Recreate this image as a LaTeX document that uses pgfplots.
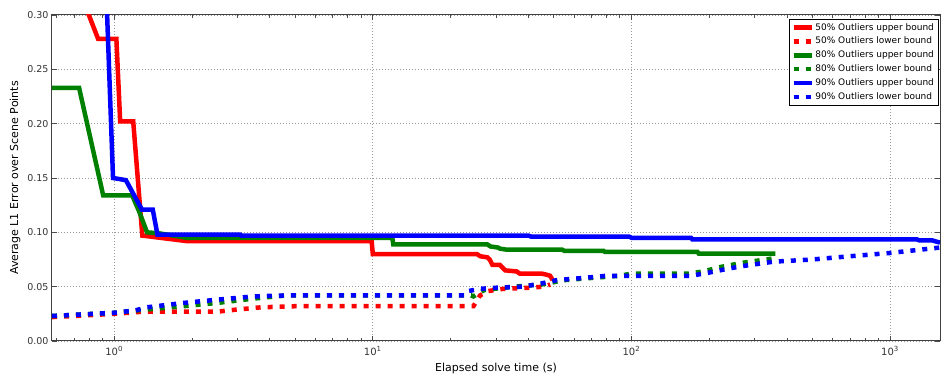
\documentclass[border=0pt]{standalone}
\usepackage{fontspec}
\setmainfont{DejaVu Sans}
\usepackage{pgfplots}
\pgfplotsset{compat=1.18}
\definecolor{mred}{RGB}{255,0,0}
\definecolor{mgreen}{RGB}{0,128,0}
\definecolor{mblue}{RGB}{0,0,255}
\begin{document}
\begin{tikzpicture}
\begin{axis}[
  scale only axis,
  width=888pt, height=326pt,
  xmode=log,
  xmin=0.575, xmax=1560,
  ymin=0, ymax=0.30,
  xtick={1,10,100,1000},
  xticklabels={10\textsuperscript{0},10\textsuperscript{1},10\textsuperscript{2},10\textsuperscript{3}},
  minor xtick={0.6,0.7,0.8,0.9,2,3,4,5,6,7,8,9,20,30,40,50,60,70,80,90,200,300,400,500,600,700,800,900},
  ytick={0,0.05,0.10,0.15,0.20,0.25,0.30},
  yticklabel style={/pgf/number format/.cd,fixed,fixed zerofill,precision=2,assume math mode=true},
  scaled y ticks=false,
  tick label style={font=\fontsize{9.5}{11}\selectfont, text=black!80},
  xticklabel style={font=\fontsize{10}{12}\selectfont, yshift=-2pt},
  label style={font=\fontsize{11}{13}\selectfont},
  xlabel={Elapsed solve time (s)},
  ylabel={Average L1 Error over Scene Points},
  xlabel style={yshift=-1pt},
  ylabel style={yshift=0pt},
  tick align=inside,
  major tick length=5pt,
  minor tick length=3pt,
  every tick/.style={black!70, line width=0.8pt},
  axis line style={black!75, line width=1pt},
  grid=major,
  major grid style={gray!80, line width=0.6pt, dash pattern=on 1pt off 2pt},
  legend cell align=left,
  legend style={at={(0.998,0.988)}, anchor=north east, font=\fontsize{9}{10.5}\selectfont,
    draw=black, line width=0.6pt, inner sep=2.5pt, row sep=2.6pt,
    nodes={inner sep=1.5pt}},
  legend image code/.code={\draw[#1] (0pt,0pt) -- (18pt,0pt);},
  every axis plot/.append style={line width=4.5pt, line join=miter},
]
% 50% upper
\addplot[mred] coordinates {(0.70,0.335) (0.867,0.278) (1.02,0.278) (1.055,0.202) (1.185,0.202) (1.285,0.097) (1.9,0.092) (9.9,0.092) (10.0,0.080) (25.3,0.080) (26,0.078) (27.7,0.077) (28.3,0.075) (29,0.070) (31,0.070) (32.5,0.065) (36,0.064) (37,0.062) (45,0.062) (47,0.061) (48.5,0.060) (49.6,0.056)};
\addlegendentry{50\% Outliers upper bound}
% 50% lower
\addplot[mred, dash pattern=on 5pt off 7pt] coordinates {(0.575,0.022) (0.7,0.023) (1.0,0.025) (1.3,0.027) (2.5,0.027) (3.0,0.029) (3.7,0.031) (5,0.032) (24.5,0.032) (26,0.042) (28,0.046) (32,0.048) (40,0.049) (46,0.050) (48.5,0.052)};
\addlegendentry{50\% Outliers lower bound}
% 80% upper
\addplot[mgreen] coordinates {(0.575,0.233) (0.732,0.233) (0.907,0.134) (1.174,0.134) (1.25,0.119) (1.34,0.100) (1.5,0.099) (1.9,0.095) (11.9,0.095) (12.0,0.089) (27.7,0.089) (28.5,0.087) (30.5,0.086) (31,0.085) (33,0.084) (54,0.084) (55,0.083) (78,0.083) (79,0.082) (180,0.082) (182,0.0805) (360,0.0805)};
\addlegendentry{80\% Outliers upper bound}
% 80% lower
\addplot[mgreen, dash pattern=on 5pt off 7pt] coordinates {(0.575,0.023) (1.0,0.026) (1.2,0.028) (1.34,0.029) (1.85,0.032) (2.5,0.035) (3.45,0.039) (4.67,0.042) (24,0.042) (24.5,0.041) (27,0.047) (35,0.050) (45,0.052) (55,0.056) (70,0.058) (90,0.060) (100,0.062) (165,0.062) (190,0.064) (220,0.068) (270,0.072) (354,0.076)};
\addlegendentry{80\% Outliers lower bound}
% 90% upper
\addplot[mblue] coordinates {(0.923,0.35) (0.99,0.150) (1.11,0.148) (1.28,0.121) (1.41,0.121) (1.47,0.098) (3.07,0.098) (3.1,0.097) (40,0.097) (41,0.096) (98,0.096) (100,0.095) (170,0.095) (172,0.0935) (1270,0.0935) (1300,0.0925) (1460,0.0925) (1560,0.0905)};
\addlegendentry{90\% Outliers upper bound}
% 90% lower
\addplot[mblue, dash pattern=on 5pt off 7pt] coordinates {(0.575,0.023) (1.0,0.026) (1.2,0.028) (1.34,0.031) (1.85,0.035) (2.5,0.038) (3.45,0.041) (4.67,0.042) (22.5,0.042) (23.5,0.046) (26,0.048) (30,0.049) (38,0.050) (45,0.053) (51.5,0.056) (65,0.058) (80,0.060) (170,0.060) (200,0.063) (230,0.066) (270,0.069) (354,0.073) (500,0.075) (700,0.078) (1000,0.081) (1560,0.086)};
\addlegendentry{90\% Outliers lower bound}
\end{axis}
\pgfresetboundingbox
\path ([shift={(-52pt,-38pt)}]current axis.south west) rectangle ([shift={(1pt,15pt)}]current axis.north east);
\end{tikzpicture}
\end{document}
